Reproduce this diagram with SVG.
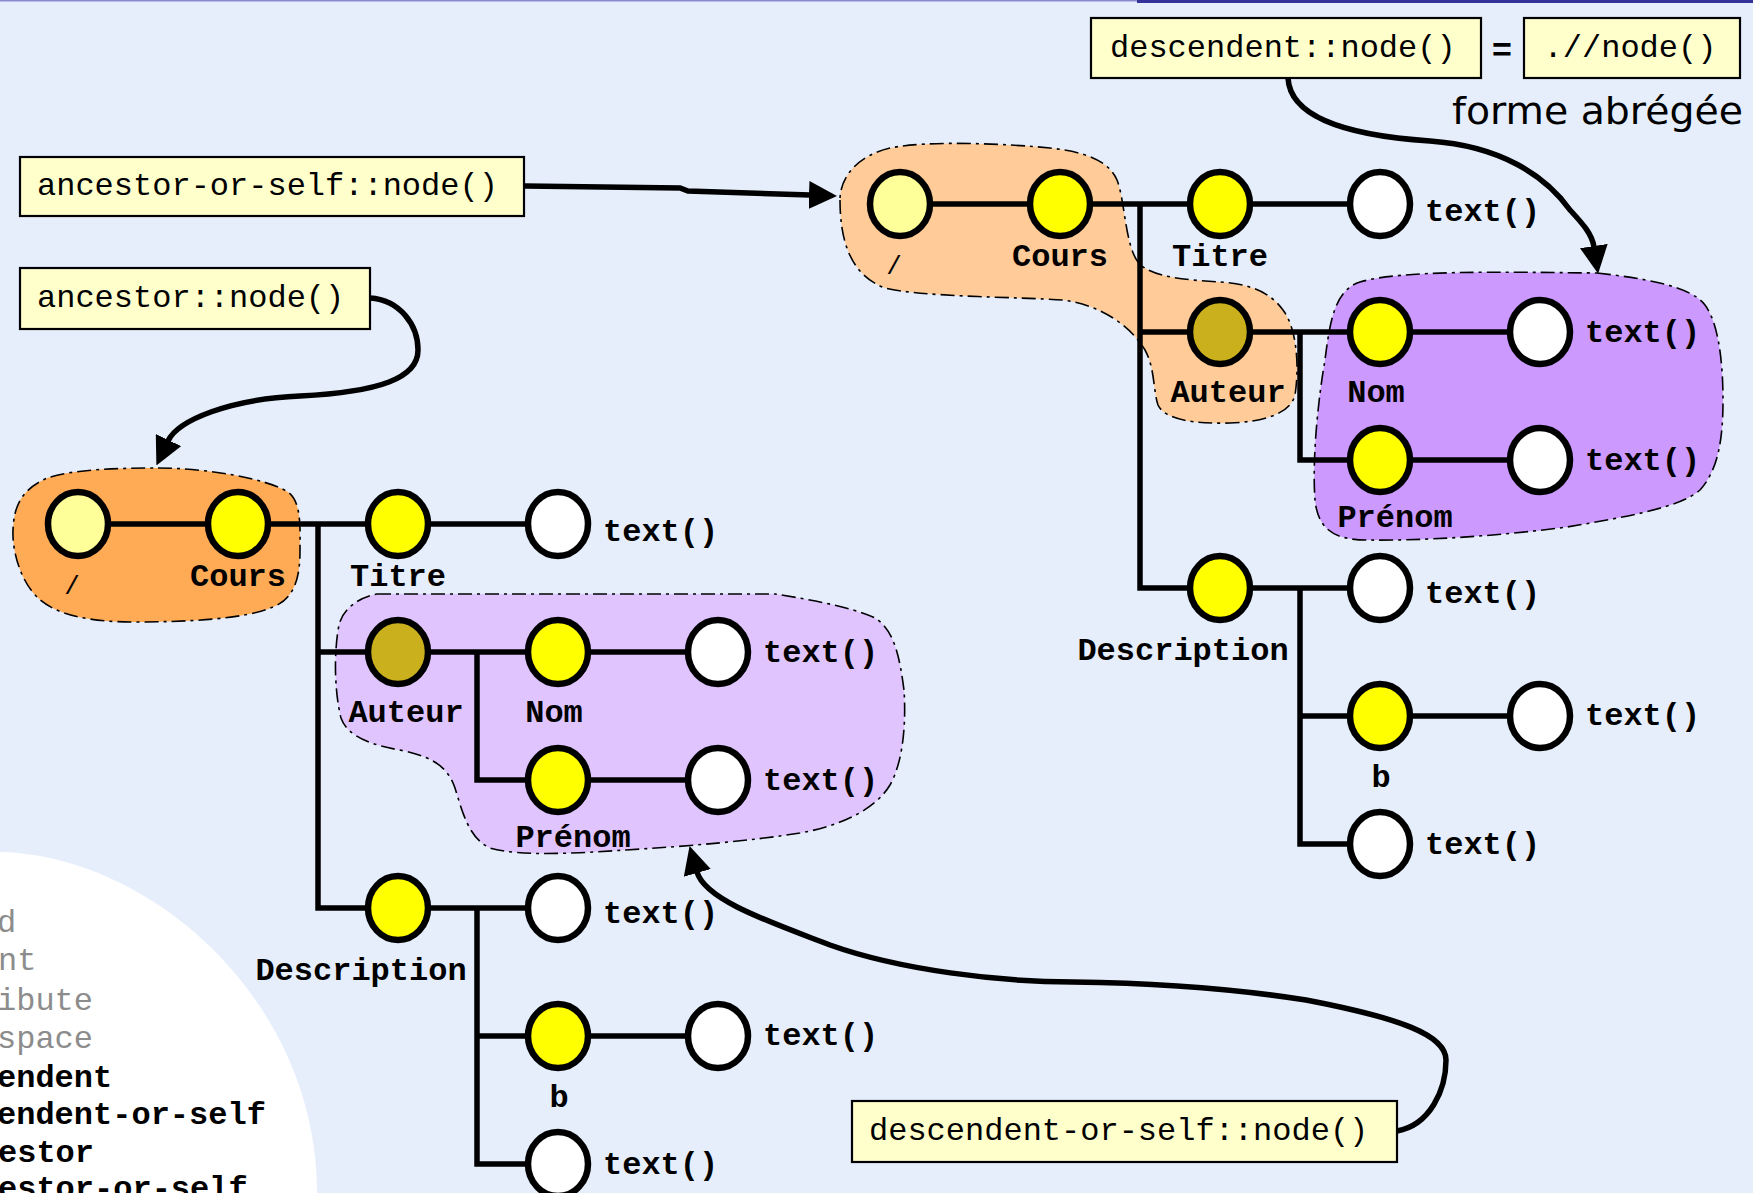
<svg xmlns="http://www.w3.org/2000/svg" width="1753" height="1193" viewBox="0 0 1753 1193">
  <defs>
    <style>
      .edge { fill: none; stroke: #000; stroke-width: 5.5; stroke-linejoin: miter; }
      .arrow { fill: none; stroke: #000; stroke-width: 5.5; stroke-linecap: round; marker-end: url(#head); }
      .blob { stroke: #000; stroke-width: 1.6; stroke-dasharray: 14 5 3 5; }
      .n { stroke: #000; stroke-width: 6.5; }
      .root { fill: #ffff99; }
      .el { fill: #ffff00; }
      .sel { fill: #c9b01c; }
      .txt { fill: #ffffff; }
      .lbl { font-family: "Liberation Mono", "Courier New", monospace; font-weight: bold; font-size: 32px; fill: #000; }
      .slash { font-family: "Liberation Mono", "Courier New", monospace; font-size: 26px; fill: #000; }
      .mid { text-anchor: middle; }
      .box rect { fill: #ffffcc; stroke: #000; stroke-width: 2.2; }
      .box text { font-family: "Liberation Mono", "Courier New", monospace; font-size: 32px; fill: #000; }
      .axis { font-family: "Liberation Mono", "Courier New", monospace; font-size: 32px; }
      .axis .off { fill: #8c8c8c; }
      .axis .on { fill: #000; font-weight: bold; }
    </style>
    <marker id="head" markerUnits="userSpaceOnUse" markerWidth="28" markerHeight="28" viewBox="0 0 28 28" refX="1" refY="14" orient="auto">
      <path d="M0,0 L28,14 L0,28 Z" fill="#000"/>
    </marker>
  </defs>

  <!-- page background and title rule -->
  <rect x="0" y="0" width="1753" height="1193" fill="#e6eefc"/>
  <rect x="0" y="0" width="1137" height="1.5" fill="#8a8ad0"/>
  <rect x="1137" y="0" width="616" height="3" fill="#333399"/>

  <!-- list of axes on the white panel, lower left -->
  <g id="axis-panel">
    <path d="M0,852 C150,855 317,1000 317,1193 L0,1193 Z" fill="#ffffff"/>
    <g class="axis">
      <text class="off" x="-3" y="932">d</text>
      <text class="off" x="-2" y="970">nt</text>
      <text class="off" x="-3" y="1010">ibute</text>
      <text class="off" x="-3" y="1048">space</text>
      <text class="on" x="-3" y="1087">endent</text>
      <text class="on" x="-3" y="1124">endent-or-self</text>
      <text class="on" x="-2" y="1162">estor</text>
      <text class="on" x="-2" y="1198">estor-or-self</text>
    </g>
  </g>

  <!-- highlighted node sets -->
  <g id="blobs">
    <path id="blob-ancestor" class="blob" fill="#ffaa55" d="M158,468 C205,468 265,478 288,492 C302,502 300,530 300,550 C300,575 296,598 273,607 C245,619 190,622 133,622 C90,622 55,615 37,597 C20,580 12,550 13,530 C14,505 22,490 45,479 C70,469 120,468 158,468 Z"/>
    <path id="blob-descendent-or-self" class="blob" fill="#e0c4fe" d="M377,594 L775,594 C800,598 850,606 875,618 C895,630 900,660 904,690 C906,720 904,760 890,785 C875,810 840,826 800,833 C750,841 690,846 626,850 C580,853 520,857 490,848 C468,838 462,810 455,788 C448,768 435,758 405,751 C375,746 348,738 341,718 C334,690 334,650 339,625 C343,608 360,597 377,594 Z"/>
    <path id="blob-ancestor-or-self" class="blob" fill="#ffcc99" d="M840,200 C840,240 850,275 885,288 C920,297 1020,297 1063,300 C1100,305 1130,325 1145,350 C1155,368 1153,390 1158,405 C1165,420 1195,424 1230,423 C1260,422 1290,415 1295,395 C1299,370 1298,330 1283,310 C1270,292 1250,284 1220,282 C1190,280 1150,278 1138,262 C1125,245 1125,200 1117,180 C1108,160 1085,152 1050,148 C1010,144 930,140 890,148 C860,155 840,175 840,200 Z"/>
    <path id="blob-descendent" class="blob" fill="#cc99ff" d="M1597,273 C1640,278 1690,285 1705,305 C1720,325 1723,370 1723,400 C1723,440 1718,470 1700,490 C1680,508 1620,518 1567,527 C1500,536 1420,541 1367,540 C1335,540 1318,530 1315,500 C1312,460 1318,400 1325,360 C1330,320 1335,290 1360,282 C1400,270 1500,272 1597,273 Z"/>
  </g>

  <!-- connectors: tree edges and axis arrows -->
  <g id="connectors">
    <g id="edges-left">
      <path class="edge" d="M78,524 H558"/>
      <path class="edge" d="M318,524 V908 H398"/>
      <path class="edge" d="M318,652 H718"/>
      <path class="edge" d="M477,652 V780 H718"/>
      <path class="edge" d="M398,908 H558"/>
      <path class="edge" d="M477,908 V1164 H558"/>
      <path class="edge" d="M477,1036 H718"/>
    </g>
    <g id="edges-right">
      <path class="edge" d="M900,204 H1380"/>
      <path class="edge" d="M1140,204 V588 H1220"/>
      <path class="edge" d="M1140,332 H1540"/>
      <path class="edge" d="M1300,332 V460 H1540"/>
      <path class="edge" d="M1220,588 H1380"/>
      <path class="edge" d="M1300,588 V844 H1380"/>
      <path class="edge" d="M1300,716 H1540"/>
    </g>
    <path id="arrow-ancestor-or-self" class="arrow" d="M525,186 L680,188 L688,191 L810,195"/>
    <path id="arrow-ancestor" class="arrow" d="M370,298 C400,300 418,325 418,350 C418,378 380,392 300,396 C230,399 178,420 168,441"/>
    <path id="arrow-descendent" class="arrow" d="M1288,78 C1290,115 1340,135 1430,141 C1500,146 1545,175 1570,210 C1583,224 1592,234 1594,247"/>
    <path id="arrow-descendent-or-self" class="arrow" d="M1397,1131 C1430,1125 1446,1090 1446,1060 C1446,1035 1400,1018 1306,1000 C1230,988 1150,983 1073,982 C1000,982 900,970 830,945 C770,922 705,900 697,872"/>
  </g>

  <!-- left tree -->
  <g id="L-root"><ellipse class="n root" cx="78" cy="524" rx="30" ry="32"/><text class="slash mid" x="72" y="594">/</text></g>
  <g id="L-cours"><ellipse class="n el" cx="238" cy="524" rx="30" ry="32"/><text class="lbl" x="190" y="586">Cours</text></g>
  <g id="L-titre"><ellipse class="n el" cx="398" cy="524" rx="30" ry="32"/><text class="lbl mid" x="398" y="586">Titre</text></g>
  <g id="L-titre-text"><ellipse class="n txt" cx="558" cy="524" rx="30" ry="32"/><text class="lbl" x="603" y="541">text()</text></g>
  <g id="L-auteur"><ellipse class="n sel" cx="398" cy="652" rx="30" ry="32"/><text class="lbl mid" x="406" y="722">Auteur</text></g>
  <g id="L-nom"><ellipse class="n el" cx="558" cy="652" rx="30" ry="32"/><text class="lbl mid" x="554" y="722">Nom</text></g>
  <g id="L-nom-text"><ellipse class="n txt" cx="718" cy="652" rx="30" ry="32"/><text class="lbl" x="763" y="662">text()</text></g>
  <g id="L-prenom"><ellipse class="n el" cx="558" cy="780" rx="30" ry="32"/><text class="lbl mid" x="573" y="847">Prénom</text></g>
  <g id="L-prenom-text"><ellipse class="n txt" cx="718" cy="780" rx="30" ry="32"/><text class="lbl" x="763" y="790">text()</text></g>
  <g id="L-description"><ellipse class="n el" cx="398" cy="908" rx="30" ry="32"/><text class="lbl mid" x="361" y="980">Description</text></g>
  <g id="L-description-text"><ellipse class="n txt" cx="558" cy="908" rx="30" ry="32"/><text class="lbl" x="603" y="923">text()</text></g>
  <g id="L-b"><ellipse class="n el" cx="558" cy="1036" rx="30" ry="32"/><text class="lbl mid" x="559" y="1107">b</text></g>
  <g id="L-b-text"><ellipse class="n txt" cx="718" cy="1036" rx="30" ry="32"/><text class="lbl" x="763" y="1045">text()</text></g>
  <g id="L-last-text"><ellipse class="n txt" cx="558" cy="1164" rx="30" ry="32"/><text class="lbl" x="603" y="1174">text()</text></g>

  <!-- right tree -->
  <g id="R-root"><ellipse class="n root" cx="900" cy="204" rx="30" ry="32"/><text class="slash mid" x="894" y="274">/</text></g>
  <g id="R-cours"><ellipse class="n el" cx="1060" cy="204" rx="30" ry="32"/><text class="lbl" x="1012" y="266">Cours</text></g>
  <g id="R-titre"><ellipse class="n el" cx="1220" cy="204" rx="30" ry="32"/><text class="lbl mid" x="1220" y="266">Titre</text></g>
  <g id="R-titre-text"><ellipse class="n txt" cx="1380" cy="204" rx="30" ry="32"/><text class="lbl" x="1425" y="221">text()</text></g>
  <g id="R-auteur"><ellipse class="n sel" cx="1220" cy="332" rx="30" ry="32"/><text class="lbl mid" x="1228" y="402">Auteur</text></g>
  <g id="R-nom"><ellipse class="n el" cx="1380" cy="332" rx="30" ry="32"/><text class="lbl mid" x="1376" y="402">Nom</text></g>
  <g id="R-nom-text"><ellipse class="n txt" cx="1540" cy="332" rx="30" ry="32"/><text class="lbl" x="1585" y="342">text()</text></g>
  <g id="R-prenom"><ellipse class="n el" cx="1380" cy="460" rx="30" ry="32"/><text class="lbl mid" x="1395" y="527">Prénom</text></g>
  <g id="R-prenom-text"><ellipse class="n txt" cx="1540" cy="460" rx="30" ry="32"/><text class="lbl" x="1585" y="470">text()</text></g>
  <g id="R-description"><ellipse class="n el" cx="1220" cy="588" rx="30" ry="32"/><text class="lbl mid" x="1183" y="660">Description</text></g>
  <g id="R-description-text"><ellipse class="n txt" cx="1380" cy="588" rx="30" ry="32"/><text class="lbl" x="1425" y="603">text()</text></g>
  <g id="R-b"><ellipse class="n el" cx="1380" cy="716" rx="30" ry="32"/><text class="lbl mid" x="1381" y="787">b</text></g>
  <g id="R-b-text"><ellipse class="n txt" cx="1540" cy="716" rx="30" ry="32"/><text class="lbl" x="1585" y="725">text()</text></g>
  <g id="R-last-text"><ellipse class="n txt" cx="1380" cy="844" rx="30" ry="32"/><text class="lbl" x="1425" y="854">text()</text></g>

  <!-- axis expressions -->
  <g id="box-ancestor-or-self" class="box"><rect x="20" y="157" width="504" height="59"/><text x="37" y="195">ancestor-or-self::node()</text></g>
  <g id="box-ancestor" class="box"><rect x="20" y="268" width="350" height="61"/><text x="37" y="307">ancestor::node()</text></g>
  <g id="box-descendent" class="box"><rect x="1091" y="18" width="390" height="60"/><text x="1110" y="57">descendent::node()</text></g>
  <g id="box-short" class="box"><rect x="1524" y="18" width="216" height="60"/><text x="1630" y="57" text-anchor="middle">.//node()</text></g>
  <g id="box-descendent-or-self" class="box"><rect x="852" y="1101" width="545" height="61"/><text x="869" y="1140">descendent-or-self::node()</text></g>

  <g id="equals"><text x="1502" y="61" text-anchor="middle" font-family="'Liberation Sans', Arial, sans-serif" font-weight="bold" font-size="34">=</text></g>
  <g id="short-form-note"><text x="1452" y="124" font-family="'DejaVu Sans', sans-serif" font-size="38" textLength="291" lengthAdjust="spacingAndGlyphs" fill="#000">forme abrégée</text></g>
</svg>
